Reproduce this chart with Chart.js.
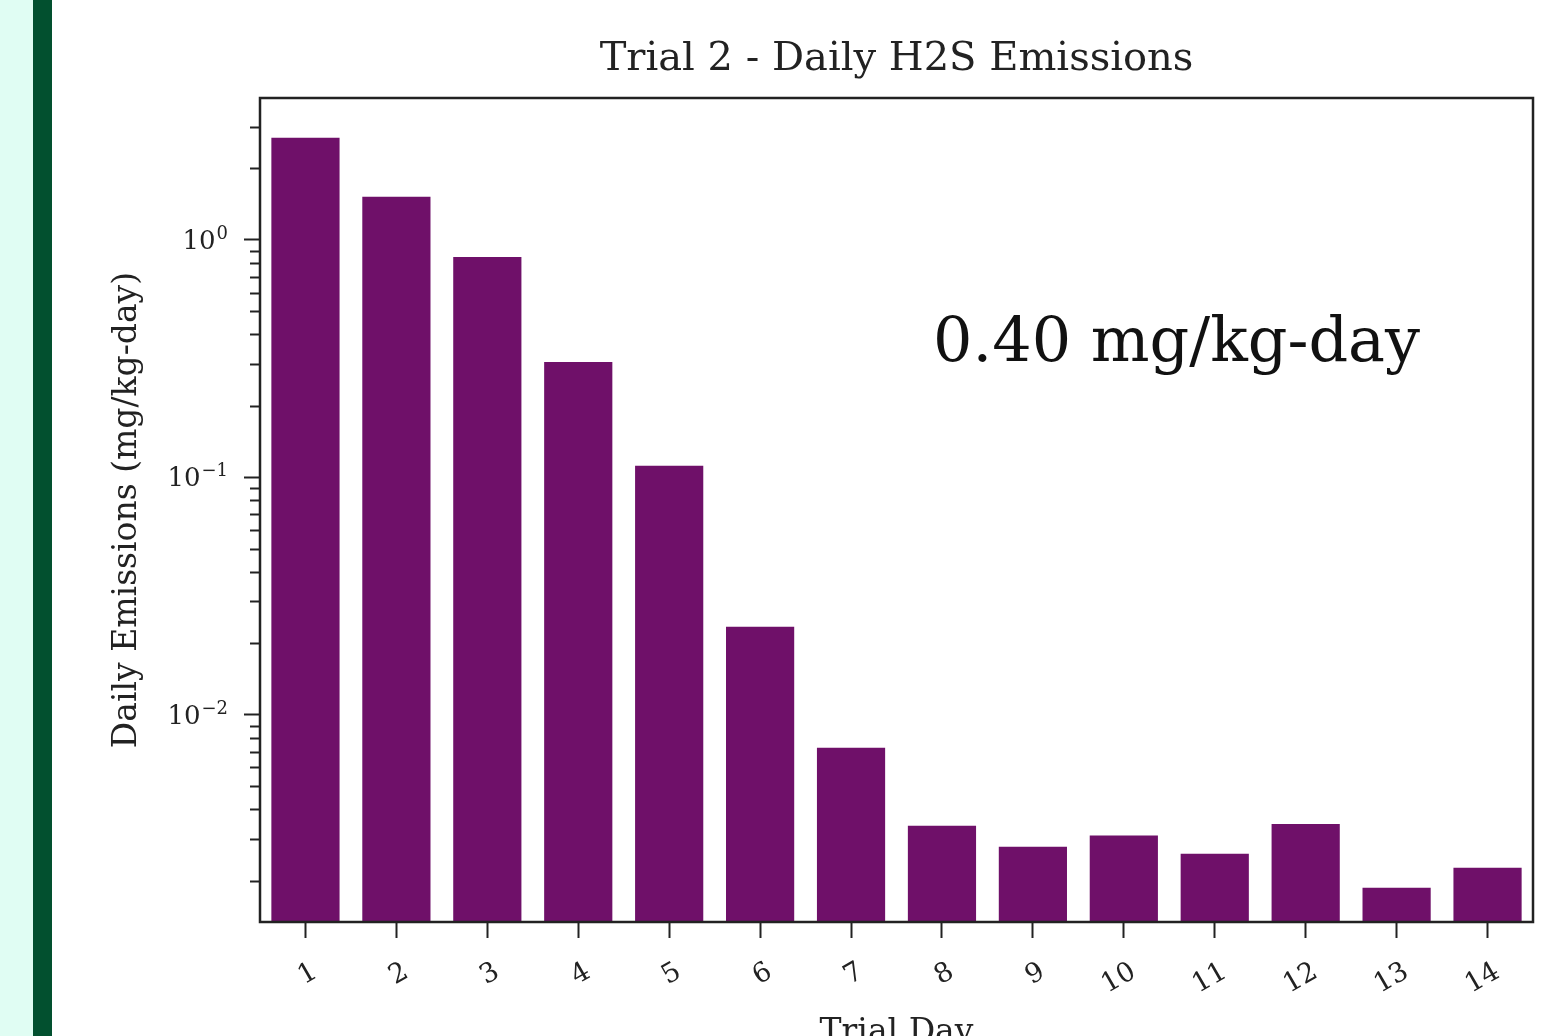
<!DOCTYPE html>
<html>
<head>
<meta charset="utf-8">
<script src="https://cdn.jsdelivr.net/npm/chart.js@4/dist/chart.umd.min.js"></script>
<style>
  html, body { margin: 0; padding: 0; background: #ffffff; }
  body { width: 1557px; height: 1036px; position: relative; overflow: hidden; }
  #mint { position: absolute; left: 0; top: 0; width: 33px; height: 1036px; background: #e0fdf3; }
  #green { position: absolute; left: 33px; top: 0; width: 19px; height: 1036px; background: #02502f; }
  #wrap { position: absolute; left: 0; top: 0; width: 1557px; height: 1036px; }
</style>
</head>
<body>
<div id="mint"></div>
<div id="green"></div>
<div id="wrap"><canvas id="h2sChart"></canvas></div>
<script>
// trial days and daily H2S emissions (mg/kg-day)
const trialDays = ['1', '2', '3', '4', '5', '6', '7', '8', '9', '10', '11', '12', '13', '14'];
const dailyEmissions = [2.69, 1.52, 0.848, 0.306, 0.112, 0.0235, 0.00726, 0.00341, 0.00278, 0.00310, 0.00260, 0.00347, 0.00187, 0.00227];
const majorTicks = [0.01, 0.1, 1];
const majorExponents = ['\u22122', '\u22121', '0'];
const yRange = [0.00134, 3.96];
const chartTitle = 'Trial 2 - Daily H2S Emissions';
const totalLabel = '0.40 mg/kg-day';

const serif = "'DejaVu Serif', 'Liberation Serif', serif";
const ink = '#222222';

//frame, minor log ticks, 10^n labels, title and the big total text
const extras = {
    id: 'extras',
    afterDraw(chart) {
        const ctx = chart.ctx;
        const area = chart.chartArea;
        const y = chart.scales.y;
        const midX = (area.left + area.right) / 2;
        ctx.save();
        ctx.strokeStyle = ink;
        ctx.lineWidth = 2;
        for (let k = -3; k <= 0; k++) {
            for (let m = 2; m <= 9; m++) {
                const v = m * Math.pow(10, k);
                if (v < y.min || v > y.max) continue;
                const py = Math.round(y.getPixelForValue(v)) + 0.5;
                ctx.beginPath();
                ctx.moveTo(area.left - 10, py);
                ctx.lineTo(area.left, py);
                ctx.stroke();
            }
        }
        ctx.lineWidth = 2.5;
        ctx.strokeRect(area.left, area.top, area.right - area.left, area.bottom - area.top);

        // y labels as 10 with a raised exponent
        ctx.fillStyle = ink;
        ctx.textBaseline = 'alphabetic';
        ctx.textAlign = 'right';
        majorTicks.forEach(function(v, i) {
            const py = y.getPixelForValue(v);
            const right = area.left - 32;
            ctx.font = "18px " + serif;
            const ew = ctx.measureText(majorExponents[i]).width;
            ctx.fillText(majorExponents[i], right, py - 1);
            ctx.font = "26px " + serif;
            ctx.fillText('10', right - ew - 1, py + 9);
        });

        // title centred over the plot box
        ctx.textAlign = 'center';
        ctx.textBaseline = 'middle';
        ctx.font = "40px " + serif;
        ctx.fillText(chartTitle, midX, area.top - 38);

        ctx.fillStyle = '#111111';
        ctx.font = "62px " + serif;
        ctx.fillText(totalLabel, area.left + (area.right - area.left) * 0.72, area.top + (area.bottom - area.top) * 0.30);
        ctx.restore();
    }
};

const ctx = document.getElementById('h2sChart');
let h2sChart = new Chart(ctx, {
    type: 'bar',
    data: {
        labels: trialDays,
        datasets: [{
            data: dailyEmissions,
            backgroundColor: '#6f1069',
            borderWidth: 0,
            categoryPercentage: 1.0,
            barPercentage: 0.75
        }]
    },
    options: {
        responsive: true,
        maintainAspectRatio: false,
        animation: false,
        layout: { padding: { left: 100, right: 24, top: 98, bottom: 0 } },
        plugins: {
            legend: { display: false },
            tooltip: { enabled: false },
            title: { display: false }
        },
        scales: {
            x: {
                offset: true,
                grid: { offset: false, drawOnChartArea: false, drawTicks: true, tickLength: 16, tickWidth: 2, tickColor: ink },
                border: { display: false },
                ticks: {
                    color: ink,
                    font: { family: serif, size: 27 },
                    minRotation: 30,
                    maxRotation: 30,
                    padding: 18,
                    labelOffset: 10
                },
                title: {
                    display: true,
                    text: 'Trial Day',
                    color: ink,
                    font: { family: serif, size: 33 },
                    padding: { top: 0, bottom: -17 }
                },
                afterFit(scale) { scale.height = 114; }
            },
            y: {
                type: 'logarithmic',
                min: yRange[0],
                max: yRange[1],
                grid: { drawOnChartArea: false, drawTicks: true, tickLength: 16, tickWidth: 2, tickColor: ink },
                border: { display: false },
                afterBuildTicks(scale) {
                    scale.ticks = majorTicks.map(v => ({ value: v, major: true }));
                },
                ticks: {
                    color: 'rgba(0,0,0,0)',
                    font: { family: serif, size: 24 },
                    padding: 14
                },
                title: {
                    display: true,
                    text: 'Daily Emissions (mg/kg-day)',
                    color: ink,
                    font: { family: serif, size: 33 },
                    padding: { top: 8, bottom: 0 }
                },
                afterFit(scale) { scale.width = 160; }
            }
        }
    },
    plugins: [extras]
});
</script>
</body>
</html>
